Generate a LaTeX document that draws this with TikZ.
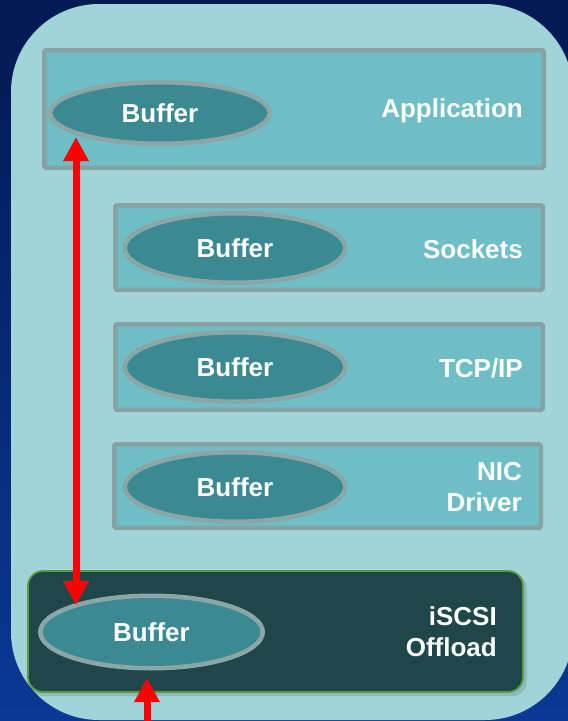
\documentclass[tikz,border=0pt]{standalone}
\usepackage{fontspec}
\setmainfont{Liberation Sans}
\usetikzlibrary{arrows.meta,shapes.geometric}
\definecolor{navytop}{HTML}{001A52}
\definecolor{navybot}{HTML}{0B3896}
\definecolor{panelc}{HTML}{A0D4D8}
\definecolor{layerfill}{HTML}{6FBEC5}
\definecolor{layerline}{HTML}{87A2A3}
\definecolor{buffill}{HTML}{3C8A91}
\definecolor{bufline}{HTML}{8AA6A7}
\definecolor{offfill}{HTML}{1F4749}
\definecolor{offline}{HTML}{5B9B3A}
\definecolor{arrred}{HTML}{FF0000}
\tikzset{
  layerbox/.style={draw=layerline, fill=layerfill, line width=4.5pt, rounded corners=1.5pt, inner sep=0pt},
  offbox/.style={draw=offline, fill=offfill, line width=1.8pt, rounded corners=15pt, inner sep=0pt},
  buf/.style={ellipse, draw=bufline, fill=buffill, line width=4.5pt, inner sep=0pt,
    text=white, font=\bfseries\fontsize{26}{31}\selectfont},
  lbl/.style={text=white, font=\bfseries\fontsize{26}{31}\selectfont, align=right, anchor=east, inner sep=0pt},
  redarrow/.style={draw=arrred, line width=7pt},
  redtip/.tip={Triangle[width=24pt,length=24pt]}
}
\begin{document}
\begin{tikzpicture}[x=1pt,y=-1pt]
\useasboundingbox (0,0) rectangle (568,721);
\clip (0,0) rectangle (568,721);
\shade[top color=navytop, bottom color=navybot] (0,0) rectangle (568,721);
\fill[panelc, rounded corners=88pt] (11,4) rectangle (573,720);

% layers
\node[layerbox, minimum width=499.5pt, minimum height=117.5pt] (app) at (294,109) {};
\node[layerbox, minimum width=427.5pt, minimum height=84.5pt] (sock) at (329,247.5) {};
\node[layerbox, minimum width=427.5pt, minimum height=85.5pt] (tcp) at (329,367) {};
\node[layerbox, minimum width=426.5pt, minimum height=83.5pt] (nic) at (327.5,486) {};
\fill[black, opacity=0.12, rounded corners=15pt] (29,574) rectangle (527,696);
\node[offbox, minimum width=495pt, minimum height=121pt] (off) at (275.5,631.5) {};

% buffers
\node[buf, minimum width=219.5pt, minimum height=61.5pt] (b1) at (160,113) {Buffer};
\node[buf, minimum width=220.5pt, minimum height=69.5pt] (b2) at (235,248) {Buffer};
\node[buf, minimum width=220.5pt, minimum height=69.5pt] (b3) at (235,367) {Buffer};
\node[buf, minimum width=220.5pt, minimum height=69.5pt] (b4) at (235,487) {Buffer};
\node[buf, minimum width=222.5pt, minimum height=72.5pt] (b5) at (151.5,632) {Buffer};

% labels
\node[lbl] (lapp) at (523,111) {Application};
\node[lbl] (lsock) at (523,249) {Sockets};
\node[lbl] (ltcp) at (523,368) {TCP/IP};
\node[lbl] (lnic) at (522,487) {NIC\\Driver};
\node[lbl] (loff) at (497,632) {iSCSI\\Offload};

% arrows
\coordinate (t1) at (76,137);
\coordinate (t2) at (76,605);
\coordinate (t3) at (147,678);
\coordinate (t4) at (147,730);
\draw[redarrow, redtip-redtip] (t1) -- (t2);
\draw[redarrow, -redtip] (t4) -- (t3);
\end{tikzpicture}
\end{document}
